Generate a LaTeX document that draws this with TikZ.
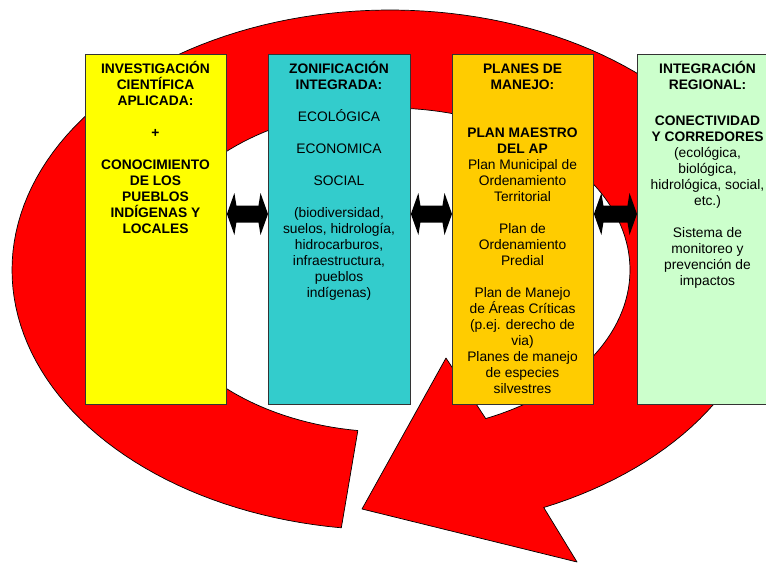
\documentclass[tikz,border=0pt]{standalone}
\usepackage{fontspec}
\setmainfont{Liberation Sans}
\usetikzlibrary{calc}
\definecolor{ringred}{HTML}{FF0000}
\definecolor{boxyellow}{HTML}{FFFF00}
\definecolor{boxcyan}{HTML}{33CCCC}
\definecolor{boxgold}{HTML}{FFCC00}
\definecolor{boxgreen}{HTML}{CCFFCC}
\definecolor{edgegray}{HTML}{333333}
\tikzset{
  ringshape/.style={fill=ringred, draw=black, line width=0.7pt, line join=round},
  panel/.style={draw=edgegray, line width=0.9pt, inner sep=0pt, minimum width=141pt, minimum height=350pt, anchor=north west},
  paneltext/.style={align=center, inner sep=0pt, anchor=north, text=black, font=\fontsize{13.8}{16}\selectfont},
  dblarrow/.style={fill=black}
}
\begin{document}
\begin{tikzpicture}[x=1pt,y=-1pt]
\useasboundingbox (0,0) rectangle (766,563);
\clip (0,0) rectangle (766,563);
\fill[white] (0,0) rectangle (766,563);

% red circular arrow
\path[ringshape] plot[domain=97.4:426,samples=160] ({390+378*cos(\x)},{270+260*sin(\x)})
  -- (577,562) -- (362,509) -- (446,358)
  -- plot[domain=426.5:97.7,samples=160] ({390+240*cos(\x)},{270+162*sin(\x)}) -- cycle;

% panels
\node[panel, fill=boxyellow] (b1) at (85,53.5) {};
\node[panel, fill=boxcyan, minimum width=142pt] (b2) at (268,53.5) {};
\node[panel, fill=boxgold] (b3) at (452,53.5) {};
\node[panel, fill=boxgreen] (b4) at (637,53.5) {};

% texts
\node[paneltext, font=\fontsize{13.8}{16}\selectfont\bfseries] (t1) at (155.5,58.5)
 {\rule{0pt}{15pt}INVESTIGACIÓN\\CIENTÍFICA\\APLICADA:\\[16pt]+\\[16pt]CONOCIMIENTO\\DE LOS\\PUEBLOS\\INDÍGENAS Y\\LOCALES};
\node[paneltext] (t2) at (339,58.5)
 {\rule{0pt}{15pt}{\bfseries ZONIFICACIÓN}\\{\bfseries INTEGRADA:}\\[16pt]ECOLÓGICA\\[16pt]ECONOMICA\\[16pt]SOCIAL\\[16pt](biodiversidad,\\suelos, hidrología,\\hidrocarburos,\\infraestructura,\\pueblos\\indígenas)};
\node[paneltext] (t3) at (522.5,58.5)
 {\rule{0pt}{15pt}{\bfseries PLANES DE}\\{\bfseries MANEJO:}\\[32pt]{\bfseries PLAN MAESTRO}\\{\bfseries DEL AP}\\Plan Municipal de\\Ordenamiento\\Territorial\\[16pt]Plan de\\Ordenamiento\\Predial\\[16pt]Plan de Manejo\\de Áreas Críticas\\(p.ej. derecho de\\via)\\Planes de manejo\\de especies\\silvestres};
\node[paneltext] (t4) at (707.5,58.5)
 {\rule{0pt}{15pt}{\bfseries INTEGRACIÓN}\\{\bfseries REGIONAL:}\\[20pt]{\bfseries CONECTIVIDAD}\\{\bfseries Y CORREDORES}\\(ecológica,\\biológica,\\hidrológica, social,\\etc.)\\[16pt]Sistema de\\monitoreo y\\prevención de\\impactos};

% double arrows
\coordinate (L1) at (b1.east |- 0,214);
\coordinate (R1) at (b2.west |- 0,214);
\coordinate (L2) at (b2.east |- 0,214);
\coordinate (R2) at (b3.west |- 0,214);
\coordinate (L3) at (b3.east |- 0,214);
\coordinate (R3) at (b4.west |- 0,214);
\foreach \l/\r in {L1/R1, L2/R2, L3/R3}{
  \fill[dblarrow] (\l) -- +(7.5,-21) -- +(9.5,-8.5) -- ([shift={(-9.5,-8.5)}]\r) -- ([shift={(-7.5,-21)}]\r)
    -- (\r) -- +(-7.5,21) -- +(-9.5,8.5) -- ([shift={(9.5,8.5)}]\l) -- ([shift={(7.5,21)}]\l) -- cycle;
}
\end{tikzpicture}
\end{document}
